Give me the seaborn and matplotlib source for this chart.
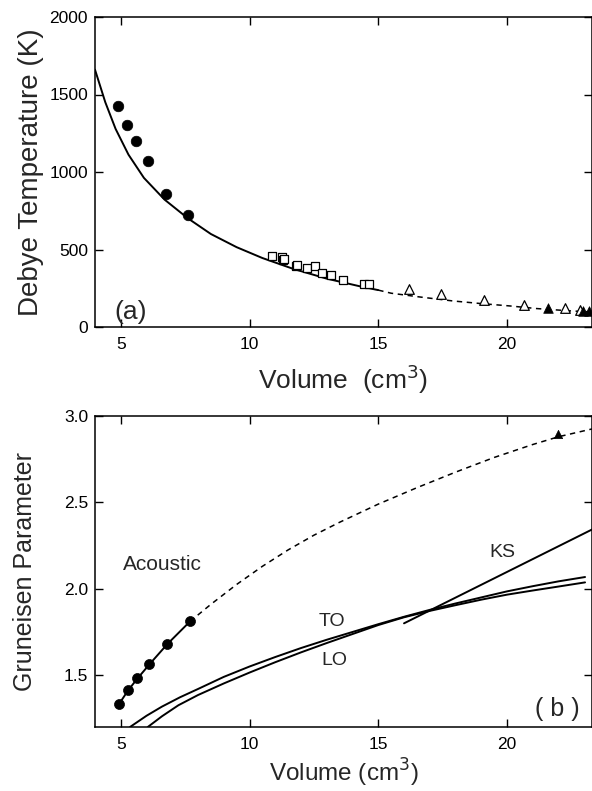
import numpy as np
import pandas as pd
import matplotlib
matplotlib.use("Agg")
import matplotlib.pyplot as plt
import seaborn as sns

# ---------------- data: panel (a) Debye temperature ----------------
curve_solid_V = [4.0, 4.4, 4.8, 5.3, 5.9, 6.7, 7.6, 8.5, 9.5, 10.5, 11.7, 13.0, 14.3, 15.0]
curve_solid_T = [1660, 1450, 1278, 1112, 962, 822, 702, 600, 515, 445, 375, 312, 262, 238]
curve_dash_V = [15.0, 15.5, 16.6, 17.9, 19.0, 20.1, 21.15, 22.45, 23.3]
curve_dash_T = [238, 218, 194, 168, 151, 136, 119, 104, 97]

circ_V = [4.88, 5.26, 5.60, 6.05, 6.76, 7.62]
circ_T = [1424, 1301, 1198, 1069, 856, 725]
sq_V = [10.89, 11.25, 11.29, 11.33, 11.80, 11.86, 12.22, 12.54, 12.80, 13.17, 13.64, 14.46, 14.64]
sq_T = [456, 452, 430, 440, 392, 398, 383, 392, 348, 334, 306, 280, 280]
otri_V = [16.19, 17.44, 19.12, 20.67, 22.25, 22.83]
otri_T = [248, 211, 172, 144, 123, 112]
ftri_V = [21.58, 22.95, 23.2]
ftri_T = [123, 102, 102]

# ---------------- data: panel (b) Gruneisen parameter ----------------
ac_V = [4.93, 5.29, 5.65, 6.11, 6.81, 7.69]
ac_G = [1.332, 1.413, 1.481, 1.562, 1.680, 1.811]
ac_dash_V = [7.69, 8.5, 9.5, 10.5, 11.5, 12.5, 13.5, 15.0, 16.5, 18.0, 19.5, 21.0, 22.0, 23.3]
ac_dash_G = [1.811, 1.91, 2.025, 2.13, 2.225, 2.31, 2.385, 2.49, 2.585, 2.675, 2.76, 2.835, 2.88, 2.925]
tri_b_V = [21.99]
tri_b_G = [2.895]

to_V = [5.36, 6.0, 6.6, 7.3, 8.0, 9.0, 10.0, 11.0, 12.0, 13.0, 14.0, 15.0, 16.0, 17.0,
        18.0, 19.0, 20.0, 21.0, 22.0, 23.03]
to_G = [1.2, 1.265, 1.318, 1.372, 1.42, 1.49, 1.55, 1.605, 1.657, 1.705, 1.75, 1.795, 1.838, 1.878,
        1.915, 1.95, 1.985, 2.015, 2.043, 2.068]
lo_V = [6.05, 6.6, 7.24, 8.0, 9.0, 10.0, 11.0, 12.0, 13.0, 14.0, 15.0, 16.0, 17.0,
        18.0, 19.0, 20.0, 21.0, 22.0, 23.03]
lo_G = [1.2, 1.262, 1.326, 1.385, 1.452, 1.515, 1.575, 1.632, 1.686, 1.738, 1.79, 1.835, 1.872,
        1.905, 1.937, 1.966, 1.99, 2.013, 2.037]
ks_V = [16.0, 23.3]
ks_G = [1.80, 2.343]

xticks = [5, 10, 15, 20]
yticks_a = [0, 500, 1000, 1500, 2000]
yticks_b = [1.5, 2.0, 2.5, 3.0]
yticklabels_b = ['1.5', '2.0', '2.5', '3.0']

# ---------------- style ----------------
sns.set_style("ticks")
plt.rcParams['font.family'] = ['Liberation Sans', 'DejaVu Sans']
plt.rcParams['axes.linewidth'] = 1.1

W, H = 592, 791
fig = plt.figure(figsize=(W / 100, H / 100), dpi=100)
ax1 = fig.add_axes([95 / W, 1 - 327 / H, 497 / W, 310 / H])
ax2 = fig.add_axes([95 / W, 1 - 727 / H, 497 / W, 311 / H])

lw = 1.4
dash = (0, (3.5, 3.0))

# panel (a)
sns.lineplot(x=curve_solid_V, y=curve_solid_T, ax=ax1, color='black', lw=lw, sort=False, estimator=None)
sns.lineplot(x=curve_dash_V, y=curve_dash_T, ax=ax1, color='black', lw=1.1, linestyle=dash, sort=False, estimator=None)
sns.scatterplot(x=circ_V, y=circ_T, ax=ax1, marker='o', s=58, color='black', edgecolor='black', linewidth=0.5, zorder=5)
sns.scatterplot(x=sq_V, y=sq_T, ax=ax1, marker='s', s=40, facecolor='white', edgecolor='black', linewidth=0.9, zorder=5)
sns.scatterplot(x=otri_V, y=otri_T, ax=ax1, marker='^', s=48, facecolor='white', edgecolor='black', linewidth=0.9, zorder=5)
sns.scatterplot(x=ftri_V, y=ftri_T, ax=ax1, marker='^', s=48, color='black', edgecolor='black', linewidth=0.5, zorder=5)

ax1.set_xlim(4, 23.3)
ax1.set_ylim(0, 2000)
ax1.set_xticks(xticks)
ax1.set_yticks(yticks_a)
ax1.set_xlabel('Volume  (cm$^3$)', fontsize=19, labelpad=8)
ax1.set_ylabel('Debye Temperature (K)', fontsize=20, labelpad=4)
ax1.text(4.75, 100, '(a)', fontsize=19, va='center', ha='left')

# panel (b)
sns.lineplot(x=ac_V, y=ac_G, ax=ax2, color='black', lw=lw, sort=False, estimator=None)
sns.scatterplot(x=ac_V, y=ac_G, ax=ax2, marker='o', s=52, color='black', edgecolor='black', linewidth=0.5, zorder=5)
sns.lineplot(x=ac_dash_V, y=ac_dash_G, ax=ax2, color='black', lw=1.1, linestyle=dash, sort=False, estimator=None)
sns.scatterplot(x=tri_b_V, y=tri_b_G, ax=ax2, marker='^', s=36, color='black', edgecolor='black', linewidth=0.5, zorder=5)
sns.lineplot(x=to_V, y=to_G, ax=ax2, color='black', lw=lw, sort=False, estimator=None)
sns.lineplot(x=lo_V, y=lo_G, ax=ax2, color='black', lw=lw, sort=False, estimator=None)
sns.lineplot(x=ks_V, y=ks_G, ax=ax2, color='black', lw=lw, sort=False, estimator=None)

ax2.set_xlim(4, 23.3)
ax2.set_ylim(1.2, 3.0)
ax2.set_xticks(xticks)
ax2.set_yticks(yticks_b)
ax2.set_yticklabels(yticklabels_b)
ax2.set_xlabel('Volume (cm$^3$)', fontsize=17.5, labelpad=4)
ax2.set_ylabel('Gruneisen Parameter', fontsize=18, labelpad=19)
ax2.text(5.1, 2.14, 'Acoustic', fontsize=15, va='center', ha='left')
ax2.text(19.3, 2.21, 'KS', fontsize=14, va='center', ha='left')
ax2.text(12.7, 1.81, 'TO', fontsize=14, va='center', ha='left')
ax2.text(12.8, 1.587, 'LO', fontsize=14, va='center', ha='left')
ax2.text(21.1, 1.305, '( b )', fontsize=18, va='center', ha='left')

for ax in (ax1, ax2):
    ax.tick_params(direction='in', top=True, right=True, length=6, width=1.0,
                   labelsize=12.5, pad=7, colors='black')
    ax.tick_params(axis='y', pad=5)
    for sp in ax.spines.values():
        sp.set_visible(True)
        sp.set_color('black')

fig.savefig('out.png', dpi=100)
